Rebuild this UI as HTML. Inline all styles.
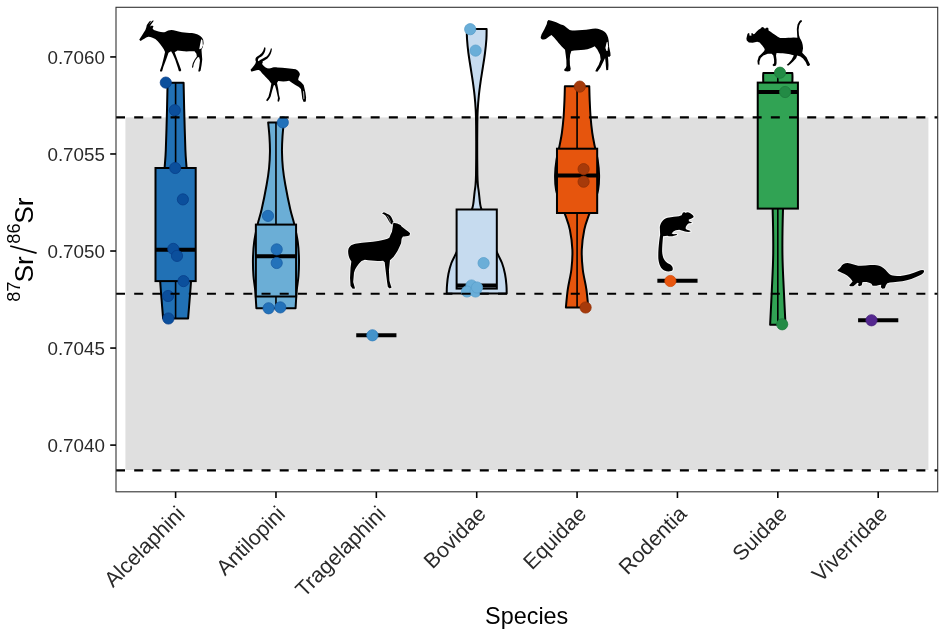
<!DOCTYPE html>
<html><head><meta charset="utf-8"><style>
html,body{margin:0;padding:0;background:#fff;}
svg{display:block;}
text{font-family:"Liberation Sans",sans-serif;}
</style></head><body>
<svg width="945" height="635" viewBox="0 0 945 635">
<rect x="0" y="0" width="945" height="635" fill="#fff"/>

<rect x="125.4" y="117.4" width="803" height="352.6" fill="#DFDFDF"/>
<path d="M183.60,82.80 C183.70,87.33 183.90,98.80 184.20,110.00 C184.50,121.20 185.00,140.33 185.40,150.00 C185.80,159.67 185.98,159.67 186.60,168.00 C187.22,176.33 188.35,188.00 189.10,200.00 C189.85,212.00 190.72,228.33 191.10,240.00 C191.48,251.67 191.43,262.83 191.40,270.00 C191.37,277.17 191.20,278.00 190.90,283.00 C190.60,288.00 190.07,294.08 189.60,300.00 C189.13,305.92 188.35,315.42 188.10,318.50 L163.10,318.50 C162.85,315.42 162.07,305.92 161.60,300.00 C161.13,294.08 160.60,288.00 160.30,283.00 C160.00,278.00 159.83,277.17 159.80,270.00 C159.77,262.83 159.72,251.67 160.10,240.00 C160.48,228.33 161.35,212.00 162.10,200.00 C162.85,188.00 163.98,176.33 164.60,168.00 C165.22,159.67 165.40,159.67 165.80,150.00 C166.20,140.33 166.70,121.20 167.00,110.00 C167.30,98.80 167.50,87.33 167.60,82.80 Z" fill="#2171B5" stroke="#000" stroke-width="2.0" stroke-linejoin="round"/>
<path d="M283.77,122.40 C283.55,124.83 282.77,132.17 282.47,137.00 C282.17,141.83 281.90,146.23 281.97,151.40 C282.04,156.57 282.32,162.48 282.87,168.00 C283.42,173.52 284.04,177.62 285.27,184.50 C286.50,191.38 288.75,202.62 290.27,209.30 C291.79,215.98 293.12,219.15 294.37,224.60 C295.62,230.05 297.00,236.27 297.77,242.00 C298.54,247.73 298.85,253.33 298.97,259.00 C299.09,264.67 298.84,270.83 298.47,276.00 C298.10,281.17 297.25,284.62 296.77,290.00 C296.29,295.38 295.77,305.25 295.57,308.30 L256.37,308.30 C256.17,305.25 255.65,295.38 255.17,290.00 C254.69,284.62 253.84,281.17 253.47,276.00 C253.10,270.83 252.85,264.67 252.97,259.00 C253.09,253.33 253.40,247.73 254.17,242.00 C254.94,236.27 256.32,230.05 257.57,224.60 C258.82,219.15 260.15,215.98 261.67,209.30 C263.19,202.62 265.44,191.38 266.67,184.50 C267.90,177.62 268.52,173.52 269.07,168.00 C269.62,162.48 269.90,156.57 269.97,151.40 C270.04,146.23 269.77,141.83 269.47,137.00 C269.17,132.17 268.39,124.83 268.17,122.40 Z" fill="#6BAED6" stroke="#000" stroke-width="2.0" stroke-linejoin="round"/>
<path d="M486.61,29.00 C486.58,30.67 486.68,35.00 486.41,39.00 C486.14,43.00 485.61,48.25 485.01,53.00 C484.41,57.75 483.54,62.73 482.81,67.50 C482.08,72.27 481.28,76.88 480.61,81.60 C479.94,86.32 479.29,91.07 478.81,95.80 C478.33,100.53 477.96,105.13 477.71,110.00 C477.46,114.87 477.39,118.33 477.31,125.00 C477.23,131.67 477.19,141.67 477.21,150.00 C477.23,158.33 477.29,169.17 477.41,175.00 C477.53,180.83 477.66,182.03 477.91,185.00 C478.16,187.97 478.53,189.57 478.91,192.80 C479.29,196.03 479.66,201.20 480.21,204.40 C480.76,207.60 480.96,207.40 482.21,212.00 C483.46,216.60 485.29,225.33 487.71,232.00 C490.13,238.67 494.33,246.83 496.71,252.00 C499.09,257.17 500.63,259.33 502.01,263.00 C503.39,266.67 504.28,270.33 505.01,274.00 C505.74,277.67 506.13,281.77 506.41,285.00 C506.69,288.23 506.66,292.00 506.71,293.40 L446.71,293.40 C446.76,292.00 446.73,288.23 447.01,285.00 C447.29,281.77 447.68,277.67 448.41,274.00 C449.14,270.33 450.03,266.67 451.41,263.00 C452.79,259.33 454.33,257.17 456.71,252.00 C459.09,246.83 463.29,238.67 465.71,232.00 C468.13,225.33 469.96,216.60 471.21,212.00 C472.46,207.40 472.66,207.60 473.21,204.40 C473.76,201.20 474.13,196.03 474.51,192.80 C474.89,189.57 475.26,187.97 475.51,185.00 C475.76,182.03 475.89,180.83 476.01,175.00 C476.13,169.17 476.19,158.33 476.21,150.00 C476.23,141.67 476.19,131.67 476.11,125.00 C476.03,118.33 475.96,114.87 475.71,110.00 C475.46,105.13 475.09,100.53 474.61,95.80 C474.13,91.07 473.48,86.32 472.81,81.60 C472.14,76.88 471.34,72.27 470.61,67.50 C469.88,62.73 469.01,57.75 468.41,53.00 C467.81,48.25 467.28,43.00 467.01,39.00 C466.74,35.00 466.84,30.67 466.81,29.00 Z" fill="#C6DBEF" stroke="#000" stroke-width="2.0" stroke-linejoin="round"/>
<path d="M589.28,86.20 C589.35,88.50 589.46,94.87 589.68,100.00 C589.90,105.13 590.15,111.50 590.58,117.00 C591.01,122.50 591.60,128.17 592.28,133.00 C592.96,137.83 593.78,141.50 594.68,146.00 C595.58,150.50 596.95,155.17 597.68,160.00 C598.41,164.83 599.01,170.00 599.08,175.00 C599.15,180.00 599.08,185.00 598.08,190.00 C597.08,195.00 594.65,200.73 593.08,205.00 C591.51,209.27 590.15,211.47 588.68,215.60 C587.21,219.73 585.43,224.12 584.28,229.80 C583.13,235.48 582.03,243.08 581.78,249.70 C581.53,256.32 582.01,262.90 582.78,269.50 C583.55,276.10 585.46,282.97 586.38,289.30 C587.30,295.63 587.96,304.47 588.28,307.50 L565.88,307.50 C566.20,304.47 566.86,295.63 567.78,289.30 C568.70,282.97 570.61,276.10 571.38,269.50 C572.15,262.90 572.63,256.32 572.38,249.70 C572.13,243.08 571.03,235.48 569.88,229.80 C568.73,224.12 566.95,219.73 565.48,215.60 C564.01,211.47 562.65,209.27 561.08,205.00 C559.51,200.73 557.08,195.00 556.08,190.00 C555.08,185.00 555.01,180.00 555.08,175.00 C555.15,170.00 555.75,164.83 556.48,160.00 C557.21,155.17 558.58,150.50 559.48,146.00 C560.38,141.50 561.20,137.83 561.88,133.00 C562.56,128.17 563.15,122.50 563.58,117.00 C564.01,111.50 564.26,105.13 564.48,100.00 C564.70,94.87 564.81,88.50 564.88,86.20 Z" fill="#E6550D" stroke="#000" stroke-width="2.0" stroke-linejoin="round"/>
<path d="M792.32,73.00 C792.32,74.60 792.74,74.77 792.32,82.60 C791.90,90.43 790.74,107.10 789.82,120.00 C788.90,132.90 787.74,148.33 786.82,160.00 C785.90,171.67 784.95,181.90 784.32,190.00 C783.69,198.10 783.34,198.10 783.02,208.60 C782.70,219.10 782.29,239.43 782.42,253.00 C782.55,266.57 783.30,278.05 783.82,290.00 C784.34,301.95 785.24,318.92 785.52,324.70 L770.12,324.70 C770.40,318.92 771.30,301.95 771.82,290.00 C772.34,278.05 773.09,266.57 773.22,253.00 C773.35,239.43 772.94,219.10 772.62,208.60 C772.30,198.10 771.95,198.10 771.32,190.00 C770.69,181.90 769.74,171.67 768.82,160.00 C767.90,148.33 766.74,132.90 765.82,120.00 C764.90,107.10 763.74,90.43 763.32,82.60 C762.90,74.77 763.32,74.60 763.32,73.00 Z" fill="#31A354" stroke="#000" stroke-width="2.0" stroke-linejoin="round"/>
<line x1="175.60" y1="82.8" x2="175.60" y2="168.0" stroke="#000" stroke-width="1.6"/>
<line x1="175.60" y1="281.1" x2="175.60" y2="318.5" stroke="#000" stroke-width="1.6"/>
<rect x="155.50" y="168.0" width="40.2" height="113.10" fill="#2171B5" stroke="#000" stroke-width="2.0"/>
<line x1="155.50" y1="249.8" x2="195.70" y2="249.8" stroke="#000" stroke-width="4.0"/>
<line x1="275.97" y1="122.4" x2="275.97" y2="224.6" stroke="#000" stroke-width="1.6"/>
<line x1="275.97" y1="296.5" x2="275.97" y2="308.3" stroke="#000" stroke-width="1.6"/>
<rect x="255.87" y="224.6" width="40.2" height="71.90" fill="#6BAED6" stroke="#000" stroke-width="2.0"/>
<line x1="255.87" y1="256.3" x2="296.07" y2="256.3" stroke="#000" stroke-width="4.0"/>
<line x1="476.71" y1="209.5" x2="476.71" y2="209.5" stroke="#000" stroke-width="1.6"/>
<line x1="476.71" y1="288.6" x2="476.71" y2="288.6" stroke="#000" stroke-width="1.6"/>
<rect x="456.61" y="209.5" width="40.2" height="79.10" fill="#C6DBEF" stroke="#000" stroke-width="2.0"/>
<line x1="456.61" y1="285.6" x2="496.81" y2="285.6" stroke="#000" stroke-width="4.0"/>
<line x1="577.08" y1="86.2" x2="577.08" y2="148.7" stroke="#000" stroke-width="1.6"/>
<line x1="577.08" y1="213.0" x2="577.08" y2="307.5" stroke="#000" stroke-width="1.6"/>
<rect x="556.98" y="148.7" width="40.2" height="64.30" fill="#E6550D" stroke="#000" stroke-width="2.0"/>
<line x1="556.98" y1="175.6" x2="597.18" y2="175.6" stroke="#000" stroke-width="4.0"/>
<line x1="777.82" y1="73.0" x2="777.82" y2="82.6" stroke="#000" stroke-width="1.6"/>
<line x1="777.82" y1="208.6" x2="777.82" y2="324.7" stroke="#000" stroke-width="1.6"/>
<rect x="757.72" y="82.6" width="40.2" height="126.00" fill="#31A354" stroke="#000" stroke-width="2.0"/>
<line x1="757.72" y1="92.0" x2="797.92" y2="92.0" stroke="#000" stroke-width="4.0"/>
<line x1="356.24" y1="335.3" x2="396.44" y2="335.3" stroke="#000" stroke-width="4.0"/>
<line x1="657.35" y1="280.8" x2="697.55" y2="280.8" stroke="#000" stroke-width="4.0"/>
<line x1="858.09" y1="320.3" x2="898.29" y2="320.3" stroke="#000" stroke-width="4.0"/>
<circle cx="165.8" cy="82.6" r="5.6" fill="#0B4F9C" stroke="#083F8A" stroke-width="0.8"/>
<circle cx="174.8" cy="110.2" r="5.6" fill="#0B4F9C" stroke="#083F8A" stroke-width="0.8"/>
<circle cx="175.2" cy="168" r="5.6" fill="#0B4F9C" stroke="#083F8A" stroke-width="0.8"/>
<circle cx="182.9" cy="199.4" r="5.6" fill="#0B4F9C" stroke="#083F8A" stroke-width="0.8"/>
<circle cx="173.3" cy="248.9" r="5.6" fill="#0B4F9C" stroke="#083F8A" stroke-width="0.8"/>
<circle cx="177" cy="255.9" r="5.6" fill="#0B4F9C" stroke="#083F8A" stroke-width="0.8"/>
<circle cx="183.5" cy="281.1" r="5.6" fill="#0B4F9C" stroke="#083F8A" stroke-width="0.8"/>
<circle cx="168.1" cy="296" r="5.6" fill="#0B4F9C" stroke="#083F8A" stroke-width="0.8"/>
<circle cx="168.4" cy="318.5" r="5.6" fill="#0B4F9C" stroke="#083F8A" stroke-width="0.8"/>
<circle cx="282.8" cy="122.4" r="5.6" fill="#2372BA" stroke="#1A5EA5" stroke-width="0.8"/>
<circle cx="268" cy="215.9" r="5.6" fill="#2372BA" stroke="#1A5EA5" stroke-width="0.8"/>
<circle cx="276.7" cy="249.4" r="5.6" fill="#2372BA" stroke="#1A5EA5" stroke-width="0.8"/>
<circle cx="276.7" cy="263" r="5.6" fill="#2372BA" stroke="#1A5EA5" stroke-width="0.8"/>
<circle cx="268.6" cy="308.3" r="5.6" fill="#2372BA" stroke="#1A5EA5" stroke-width="0.8"/>
<circle cx="280.3" cy="307.4" r="5.6" fill="#2372BA" stroke="#1A5EA5" stroke-width="0.8"/>
<circle cx="372.4" cy="335.3" r="5.6" fill="#4493CA" stroke="#2F7FBF" stroke-width="0.8"/>
<circle cx="470.2" cy="29.2" r="5.6" fill="#6AAED8" stroke="#5A9FCC" stroke-width="0.8"/>
<circle cx="475.6" cy="50.6" r="5.6" fill="#6AAED8" stroke="#5A9FCC" stroke-width="0.8"/>
<circle cx="483.6" cy="263.1" r="5.6" fill="#6AAED8" stroke="#5A9FCC" stroke-width="0.8"/>
<circle cx="471.5" cy="285.5" r="5.6" fill="#6AAED8" stroke="#5A9FCC" stroke-width="0.8"/>
<circle cx="467" cy="291.5" r="5.6" fill="#6AAED8" stroke="#5A9FCC" stroke-width="0.8"/>
<circle cx="475.5" cy="291.5" r="5.6" fill="#6AAED8" stroke="#5A9FCC" stroke-width="0.8"/>
<circle cx="477.0" cy="287.5" r="5.6" fill="#6AAED8" stroke="#5A9FCC" stroke-width="0.8"/>
<circle cx="579.8" cy="86.6" r="5.6" fill="#A63A0A" stroke="#933005" stroke-width="0.8"/>
<circle cx="583.6" cy="169.1" r="5.6" fill="#A63A0A" stroke="#933005" stroke-width="0.8"/>
<circle cx="583.6" cy="181.7" r="5.6" fill="#A63A0A" stroke="#933005" stroke-width="0.8"/>
<circle cx="585.6" cy="307.5" r="5.6" fill="#A63A0A" stroke="#933005" stroke-width="0.8"/>
<circle cx="670.4" cy="281" r="5.6" fill="#E8560F" stroke="#D44A08" stroke-width="0.8"/>
<circle cx="780" cy="72.7" r="5.6" fill="#238B45" stroke="#1E7A3C" stroke-width="0.8"/>
<circle cx="785.1" cy="92" r="5.6" fill="#238B45" stroke="#1E7A3C" stroke-width="0.8"/>
<circle cx="782.2" cy="324.3" r="5.6" fill="#238B45" stroke="#1E7A3C" stroke-width="0.8"/>
<circle cx="871.5" cy="320.3" r="5.6" fill="#54278F" stroke="#46207D" stroke-width="0.8"/>
<line x1="116" y1="117.4" x2="937.7" y2="117.4" stroke="#000" stroke-width="2.1" stroke-dasharray="9,9.19"/>
<line x1="116" y1="293.8" x2="937.7" y2="293.8" stroke="#000" stroke-width="2.1" stroke-dasharray="9,9.19"/>
<line x1="116" y1="470.4" x2="937.7" y2="470.4" stroke="#000" stroke-width="2.1" stroke-dasharray="9,9.19"/>
<rect x="116" y="7.3" width="821.7" height="484.5" fill="none" stroke="#333" stroke-width="1.1"/>
<g style="opacity:0.999">
<line x1="110.2" y1="445.10" x2="116" y2="445.10" stroke="#000" stroke-width="1.6"/>
<text x="104.9" y="451.90" font-size="18.8" fill="#2A2A2A" text-anchor="end">0.7040</text>
<line x1="110.2" y1="348.06" x2="116" y2="348.06" stroke="#000" stroke-width="1.6"/>
<text x="104.9" y="354.86" font-size="18.8" fill="#2A2A2A" text-anchor="end">0.7045</text>
<line x1="110.2" y1="251.02" x2="116" y2="251.02" stroke="#000" stroke-width="1.6"/>
<text x="104.9" y="257.82" font-size="18.8" fill="#2A2A2A" text-anchor="end">0.7050</text>
<line x1="110.2" y1="153.98" x2="116" y2="153.98" stroke="#000" stroke-width="1.6"/>
<text x="104.9" y="160.78" font-size="18.8" fill="#2A2A2A" text-anchor="end">0.7055</text>
<line x1="110.2" y1="56.94" x2="116" y2="56.94" stroke="#000" stroke-width="1.6"/>
<text x="104.9" y="63.74" font-size="18.8" fill="#2A2A2A" text-anchor="end">0.7060</text>
<line x1="175.60" y1="491.8" x2="175.60" y2="498.0" stroke="#000" stroke-width="1.6"/>
<text transform="translate(186.10,515.20) rotate(-45)" font-size="21.4" fill="#2A2A2A" text-anchor="end">Alcelaphini</text>
<line x1="275.97" y1="491.8" x2="275.97" y2="498.0" stroke="#000" stroke-width="1.6"/>
<text transform="translate(286.47,515.20) rotate(-45)" font-size="21.4" fill="#2A2A2A" text-anchor="end">Antilopini</text>
<line x1="376.34" y1="491.8" x2="376.34" y2="498.0" stroke="#000" stroke-width="1.6"/>
<text transform="translate(386.84,515.20) rotate(-45)" font-size="21.4" fill="#2A2A2A" text-anchor="end">Tragelaphini</text>
<line x1="476.71" y1="491.8" x2="476.71" y2="498.0" stroke="#000" stroke-width="1.6"/>
<text transform="translate(487.21,515.20) rotate(-45)" font-size="21.4" fill="#2A2A2A" text-anchor="end">Bovidae</text>
<line x1="577.08" y1="491.8" x2="577.08" y2="498.0" stroke="#000" stroke-width="1.6"/>
<text transform="translate(587.58,515.20) rotate(-45)" font-size="21.4" fill="#2A2A2A" text-anchor="end">Equidae</text>
<line x1="677.45" y1="491.8" x2="677.45" y2="498.0" stroke="#000" stroke-width="1.6"/>
<text transform="translate(687.95,515.20) rotate(-45)" font-size="21.4" fill="#2A2A2A" text-anchor="end">Rodentia</text>
<line x1="777.82" y1="491.8" x2="777.82" y2="498.0" stroke="#000" stroke-width="1.6"/>
<text transform="translate(788.32,515.20) rotate(-45)" font-size="21.4" fill="#2A2A2A" text-anchor="end">Suidae</text>
<line x1="878.19" y1="491.8" x2="878.19" y2="498.0" stroke="#000" stroke-width="1.6"/>
<text transform="translate(888.69,515.20) rotate(-45)" font-size="21.4" fill="#2A2A2A" text-anchor="end">Viverridae</text>
<text x="526.7" y="623.5" font-size="23.4" fill="#000" text-anchor="middle">Species</text>
<g fill="#000" font-family="Liberation Sans, sans-serif">
<text transform="translate(19.9,301.8) rotate(-90)" font-size="18.2">87</text>
<text transform="translate(32.8,282.6) rotate(-90)" font-size="26.4">Sr</text>
<text transform="translate(19.9,243.7) rotate(-90)" font-size="18.2">86</text>
<text transform="translate(32.8,223.8) rotate(-90)" font-size="26.4">Sr</text>
<line x1="10.2" y1="246.0" x2="36.6" y2="253.1" stroke="#000" stroke-width="1.8"/>
</g>
</g>
<g id="hartebeest" transform="translate(135,15) scale(0.09445)" fill="#000">
<path d="M45,262 C60,240 85,200 110,160 L120,130 L125,105 L150,72 L162,60 L168,70 L145,102 L175,70 L192,55 L197,64 L168,102 L160,122 L180,112 L196,118 L186,142 L200,160 C240,175 290,190 320,180 C350,160 390,150 430,168 C480,185 560,190 630,195 C680,205 712,230 722,262 L726,300 L716,345 L704,368 L708,420 L712,470 L705,530 L694,590 L680,602 L670,595 L680,545 L688,480 L678,445 L662,450 L640,478 L622,518 L616,552 L606,560 L604,548 L612,512 L632,470 L655,440 L650,410 L630,385 C600,380 560,388 520,385 L450,375 L420,395 L440,450 L470,530 L490,585 L478,597 L464,592 L455,560 L425,470 L398,410 L382,385 L355,400 L330,470 L300,550 L287,595 L272,602 L264,590 L285,530 L305,450 L318,392 L305,362 C285,330 250,285 215,255 C190,238 160,228 140,230 C110,240 85,260 60,275 Z"/>
<path d="M701,258 L714,266 L719,322 L705,356 L680,362 L690,310 Z" fill="#fff"/>
</g>
<g id="impala" transform="translate(245,42) scale(0.0976)" fill="#000">
<path d="M57,285 C70,268 92,245 108,218 L112,200 C102,180 105,160 125,148 C160,130 185,110 198,55 L210,58 C210,100 195,135 150,160 C135,170 128,182 135,198 L145,192 C160,175 195,165 225,145 C250,120 258,95 266,65 L276,70 C272,110 260,140 230,170 C210,185 185,195 170,205 L185,200 L175,225 C195,255 225,275 260,270 C280,262 300,255 330,260 C400,265 470,268 520,278 C550,290 565,320 562,335 L548,369 L545,390 L573,411 L601,440 L608,468 L619,518 L626,568 L623,610 L601,614 L587,582 L580,525 L573,482 L552,461 L516,440 L481,418 L452,397 C420,405 380,405 340,400 L328,420 L340,480 L348,540 L358,578 L348,612 L333,608 L338,572 L322,500 L306,440 L294,445 L278,500 L262,560 L245,590 L228,607 L216,598 L240,560 L256,500 L270,425 C255,405 245,392 234,381 C220,368 200,345 182,328 C170,315 160,298 150,292 C138,284 118,288 100,294 C85,299 75,302 64,302 Z"/>
<path d="M594,500 L605,506 L609,582 L599,586 Z" fill="#bbb"/>
</g>
<g id="kudu" transform="translate(345,208) scale(0.1323)" fill="#000" stroke="#f6f6f6" stroke-width="13" paint-order="stroke" stroke-linejoin="round">
<path d="M280,42 L293,33 C305,38 330,48 341,57 C352,68 360,85 363,101 L372,110 L368,125 L359,128 C350,125 340,115 332,101 C326,88 320,75 306,57 C298,50 288,46 280,42 Z"/>
<path d="M366,112 L395,118 L420,128 L428,140 C450,160 475,175 492,190 L487,207 C470,212 452,214 438,216 L428,232 L424,266 C405,310 390,340 368,368 L340,395 L332,470 L336,550 L345,582 L352,600 L338,608 L324,598 L318,560 L308,480 L300,410 L288,398 C250,402 200,400 150,392 L125,400 C100,425 75,455 68,490 L62,560 L70,588 L76,608 L58,610 L42,590 L38,530 L42,450 L48,405 C30,380 20,345 25,315 C32,285 55,272 90,268 C140,262 200,258 250,250 C290,242 320,235 335,225 L345,200 L355,180 L360,150 L362,132 Z"/>
<path d="M318,58 C330,70 337,88 344,110" fill="none" stroke="#bdbdbd" stroke-width="5" paint-order="normal"/>
</g>
<g id="zebra" transform="translate(535,15) scale(0.09445)" fill="#000">
<path d="M60,235 C60,250 75,262 95,260 L115,253 L150,228 L175,212 C200,235 240,285 280,330 L318,368 L325,420 L332,480 L333,540 L325,562 L310,575 L312,592 L345,598 L372,594 L378,570 L370,530 L368,470 L372,420 L385,380 C420,372 480,375 520,368 C570,360 610,345 632,330 L660,365 L688,420 L695,470 L675,528 L650,570 L638,595 L660,600 L692,558 L722,498 L742,455 L748,505 L752,560 L755,585 L775,582 L778,530 L775,470 L772,440 L785,445 L800,432 L798,400 L785,340 L780,270 C775,230 760,200 740,180 C710,155 670,145 640,142 C600,145 560,155 500,160 C450,165 400,168 367,159 C350,148 330,128 307,112 C290,102 275,100 268,98 C240,87 210,70 175,62 L142,54 L130,68 L125,95 C110,130 90,170 70,205 Z"/>
<path d="M758,290 L768,282 L774,330 L768,380 L758,382 L745,350 Z" fill="#fff"/>
</g>
<g id="rodent" transform="translate(650,205) scale(0.11022)" fill="#000" stroke="#f6f6f6" stroke-width="20" paint-order="stroke" stroke-linejoin="round">
<path d="M89,200 C95,160 120,125 160,115 C200,108 240,105 262,102 L287,92 L299,68 L315,65 L324,72 L336,65 L352,68 C370,75 390,90 396,104 L392,114 L372,124 L352,132 L352,148 L376,156 L380,164 L352,166 L336,180 L324,200 L324,217 L336,225 L364,233 L368,241 L348,245 L318,240 L297,234 L265,224 L234,228 L212,240 L196,259 L215,265 L240,264 L247,270 L234,275 L202,283 L171,284 L158,278 L118,284 L118,287 C114,330 110,380 110,420 C112,470 128,515 170,532 C195,542 212,560 205,590 C195,605 160,608 130,595 C100,580 82,540 76,490 C73,440 78,380 83,334 L89,287 L92,272 Z"/>
</g>
<g id="warthog" transform="translate(742,14) scale(0.08816)" fill="#000">
<path d="M54,302 L50,278 L62,227 L74,215 L84,220 L84,245 L107,247 L106,218 L121,219 L129,231 L141,227 L164,200 L188,180 L215,161 L223,149 L241,147 L249,161 L266,165 L282,153 L298,159 L302,188 C330,205 370,235 405,258 L432,272 C480,274 540,270 585,267 L628,270 L625,230 L622,170 L630,120 L648,86 L662,70 L678,72 L680,86 L662,102 L648,132 L642,182 L646,238 L656,272 C675,300 693,340 692,390 L683,440 L705,462 L732,492 L752,532 L772,574 L760,590 L740,586 L722,545 L692,505 L662,482 L626,472 L614,502 L580,540 L546,570 L522,586 L508,576 L528,560 L562,520 L588,470 C560,455 500,448 440,444 L392,442 L386,470 L392,520 L392,560 L386,585 L360,592 L345,578 L364,560 L364,520 L355,472 L336,452 L292,452 L242,470 L212,500 L198,540 L198,576 L180,572 L175,532 L190,482 L222,450 L252,420 L258,400 C240,370 228,352 219,345 L200,322 L172,314 L121,326 L78,322 Z"/>
</g>
<g id="mongoose" transform="translate(832,258) scale(0.10053)" fill="#000" stroke="#f6f6f6" stroke-width="16" paint-order="stroke" stroke-linejoin="round">
<path d="M52,122 L64,132 C85,142 115,152 150,175 C175,195 195,215 205,235 L185,255 L170,270 L182,282 L212,280 L236,260 L252,246 L266,252 L258,270 L272,282 L296,270 L302,242 C330,235 365,240 392,255 L404,276 L440,276 L470,268 L490,266 L486,290 L502,306 L526,300 L536,270 L550,250 C580,240 630,242 700,232 C760,222 820,200 870,175 C900,160 920,145 916,125 C905,115 885,118 860,130 C800,155 740,172 680,178 C630,182 595,178 570,160 C545,130 520,100 488,84 C460,72 420,68 380,70 C340,74 300,80 260,76 C225,70 190,52 155,50 C125,50 100,65 88,90 L72,108 Z"/>
</g>

</svg></body></html>
